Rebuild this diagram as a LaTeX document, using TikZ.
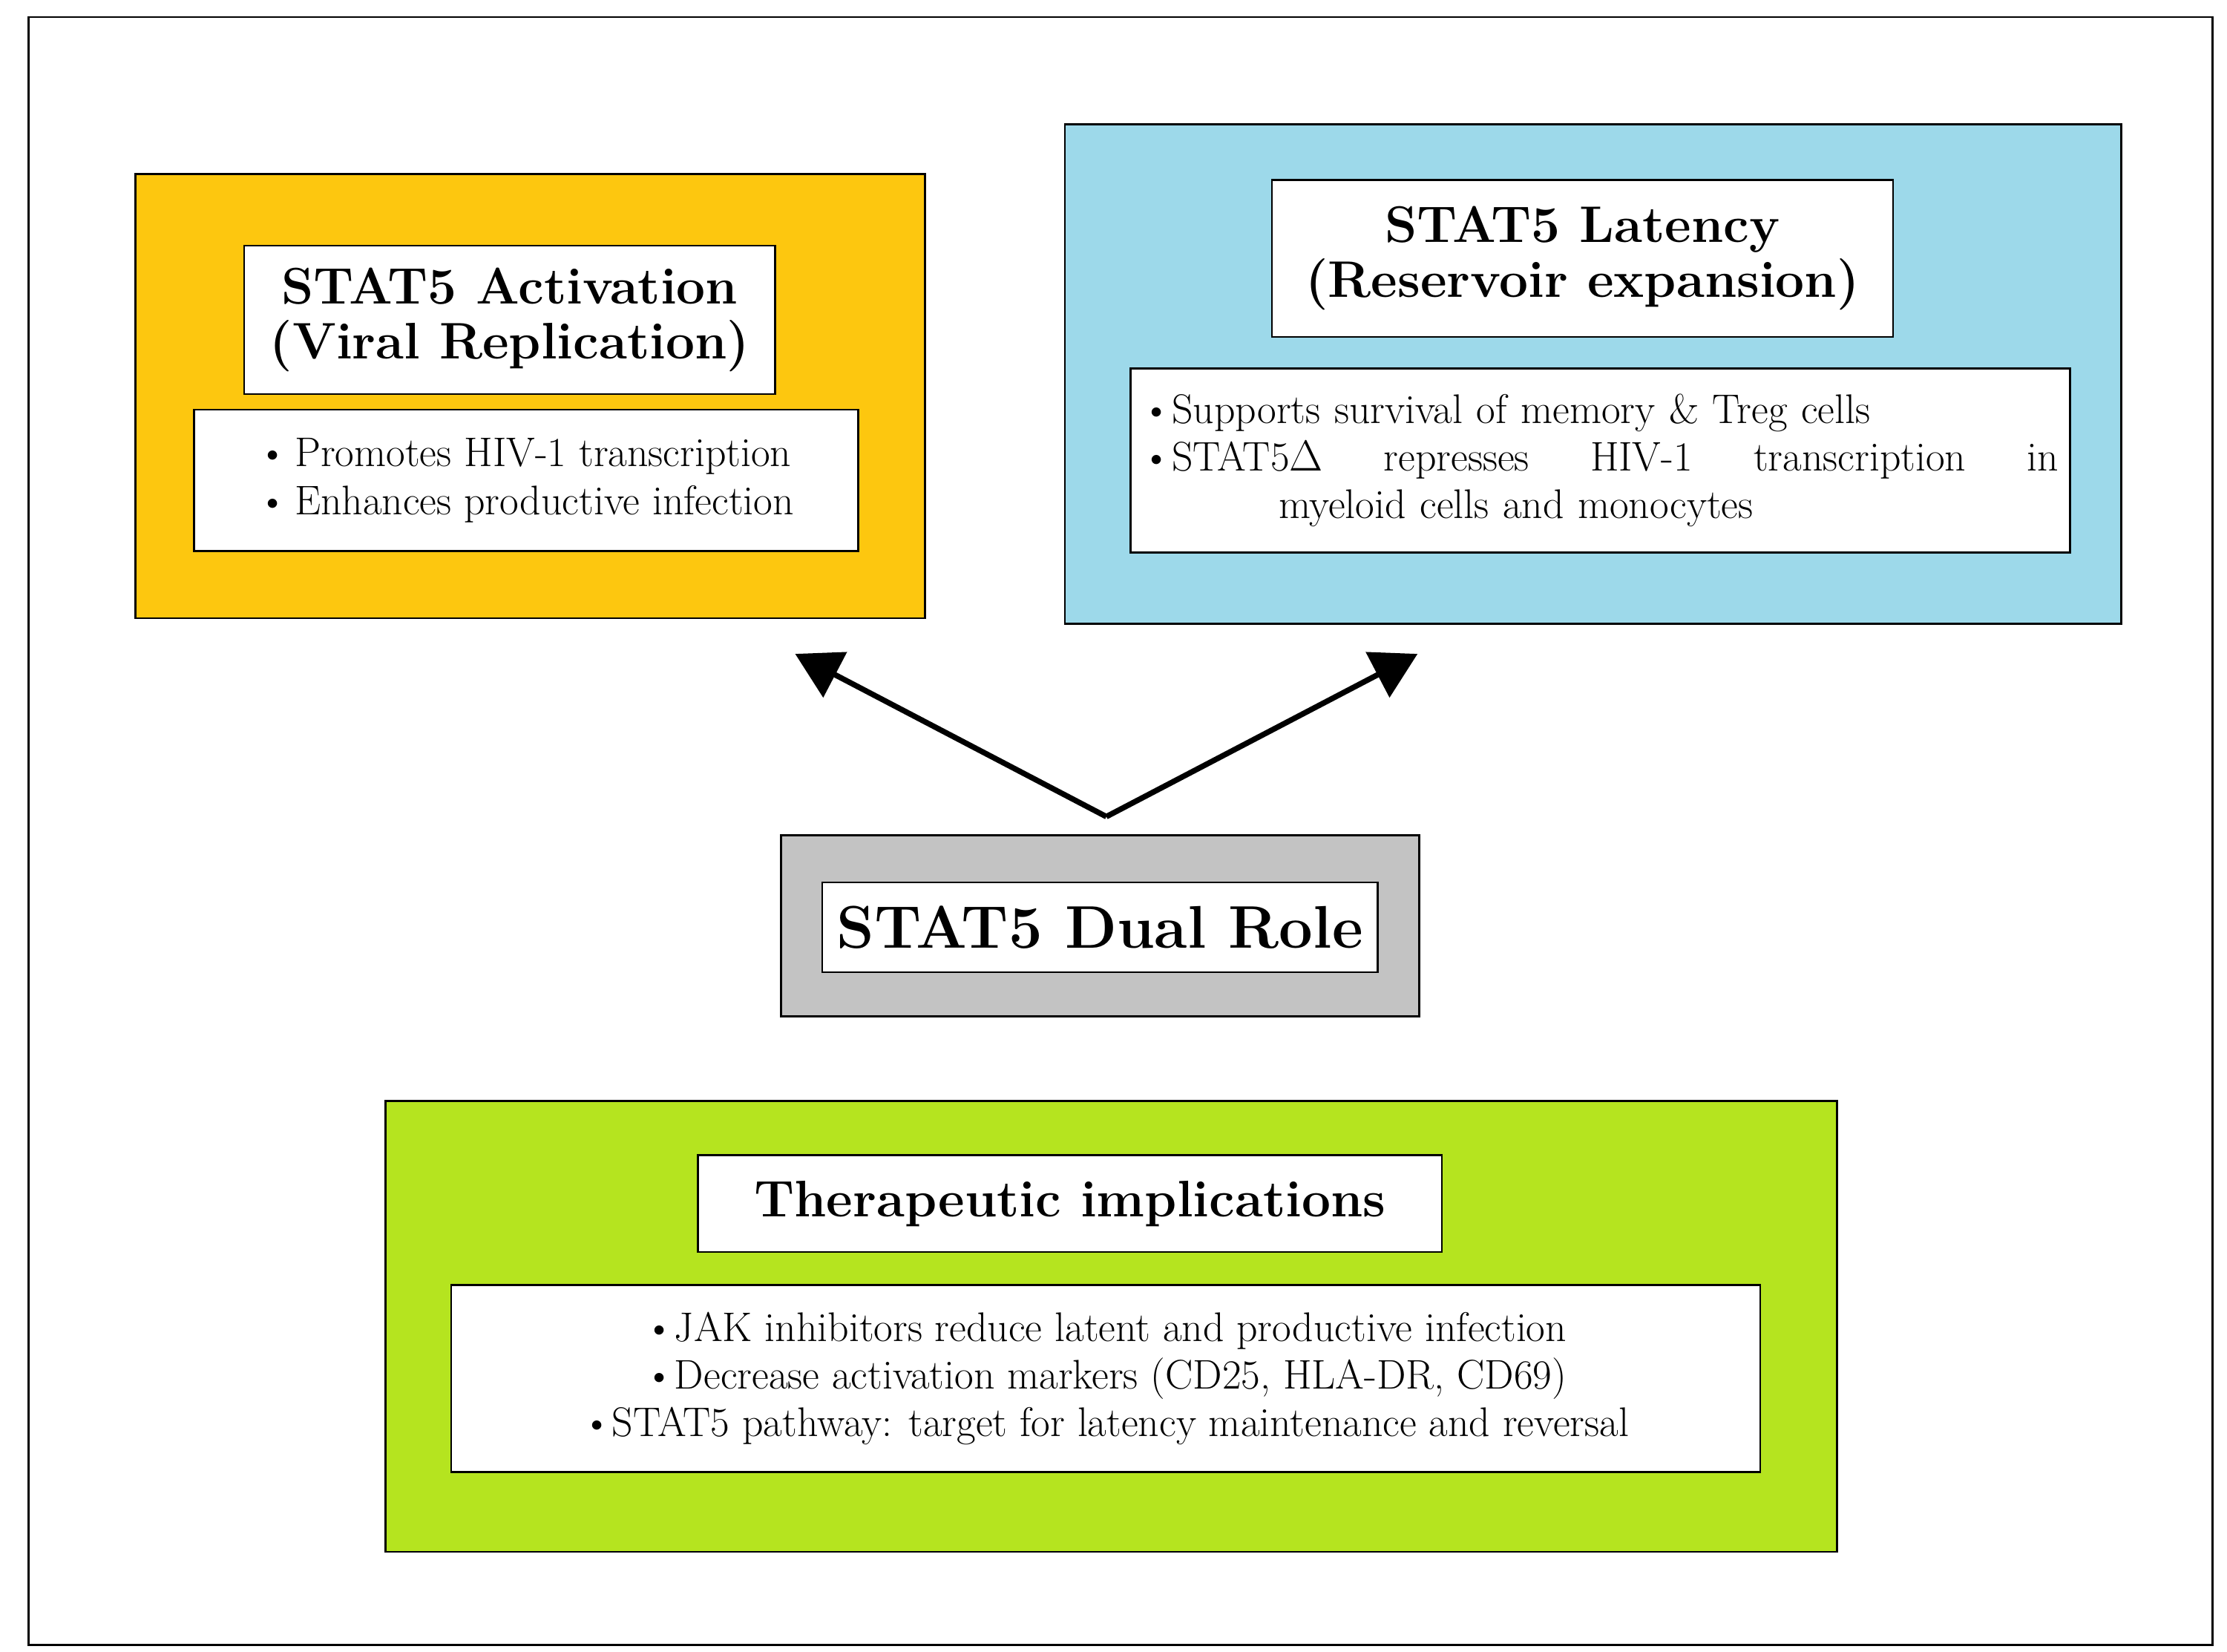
\documentclass[tikz,border=0pt]{standalone}
\usetikzlibrary{arrows.meta,positioning}
\definecolor{actorange}{HTML}{FDC70F}
\definecolor{latblue}{HTML}{9DD9EA}
\definecolor{rolegray}{HTML}{C3C3C3}
\definecolor{therapgreen}{HTML}{B5E41F}
\begin{document}
\begin{tikzpicture}[x={(0.02cm,0)}, y={(0,-0.02cm)},
	panel/.style = {draw, line width=0.8pt, inner sep=0pt},
	title/.style = {draw, fill=white, line width=0.8pt, align=center,
		font=\fontsize{20.5}{22}\selectfont\bfseries, inner sep=0pt},
	bullets/.style = {draw, fill=white, line width=0.8pt, align=left,
		font=\fontsize{16.5}{19}\selectfont, inner sep=0pt},
	dualarrow/.style = {line width=2.2pt, -{Triangle[length=18pt,width=20pt]}}]
\useasboundingbox (0,0) rectangle (1560,1157);
\draw[line width=0.8pt] (20,12) rectangle (1550,1152);
% activation
\node[panel, fill=actorange, minimum width=553*0.02cm, minimum height=311*0.02cm] (act) at (371.5,277.5) {};
\node[title, minimum width=372*0.02cm, minimum height=104*0.02cm] (acttitle) at (357,224) {STAT5 Activation\\(Viral Replication)};
\node[bullets, minimum width=465*0.02cm, minimum height=99*0.02cm] (actlist) at (368.5,336.5)
	{\textbullet\,Promotes HIV-1 transcription\\\textbullet\,Enhances productive infection};
% latency
\node[panel, fill=latblue, minimum width=740*0.02cm, minimum height=350*0.02cm] (lat) at (1116,262) {};
\node[title, minimum width=435*0.02cm, minimum height=110*0.02cm] (lattitle) at (1108.5,181) {STAT5 Latency\\(Reservoir expansion)};
\node[bullets, minimum width=658*0.02cm, minimum height=129*0.02cm, text width=642*0.02cm] (latlist) at (1121,322.5)
	{\textbullet Supports survival of memory \& Treg cells\\
	 \textbullet STAT5$\Delta$ \hfill represses \hfill HIV-1 \hfill transcription \hfill in\\
	 \hspace*{3.3em}myeloid cells and monocytes};
% dual role
\node[panel, fill=rolegray, minimum width=447*0.02cm, minimum height=127*0.02cm] (dual) at (770.5,648.5) {};
\node[draw, fill=white, line width=0.8pt, minimum width=389*0.02cm, minimum height=63*0.02cm,
	font=\fontsize{24}{28}\selectfont\bfseries] (dualtitle) at (770.5,649.5) {STAT5 Dual Role};
\coordinate (fork) at (775,572);
\coordinate (actend) at (557,458);
\coordinate (latend) at (993,458);
\draw[dualarrow] (fork) -- (actend);
\draw[dualarrow] (fork) -- (latend);
% therapy
\node[panel, fill=therapgreen, minimum width=1017*0.02cm, minimum height=316*0.02cm] (ther) at (778.5,929) {};
\node[title, minimum width=521*0.02cm, minimum height=68*0.02cm] (thertitle) at (749.5,843) {Therapeutic implications};
\node[bullets, minimum width=917*0.02cm, minimum height=131*0.02cm, align=center] (therlist) at (774.5,965.5)
	{\textbullet JAK inhibitors reduce latent and productive infection\\
	 \textbullet Decrease activation markers (CD25, HLA-DR, CD69)\\
	 \textbullet STAT5 pathway: target for latency maintenance and reversal};
\end{tikzpicture}
\end{document}
